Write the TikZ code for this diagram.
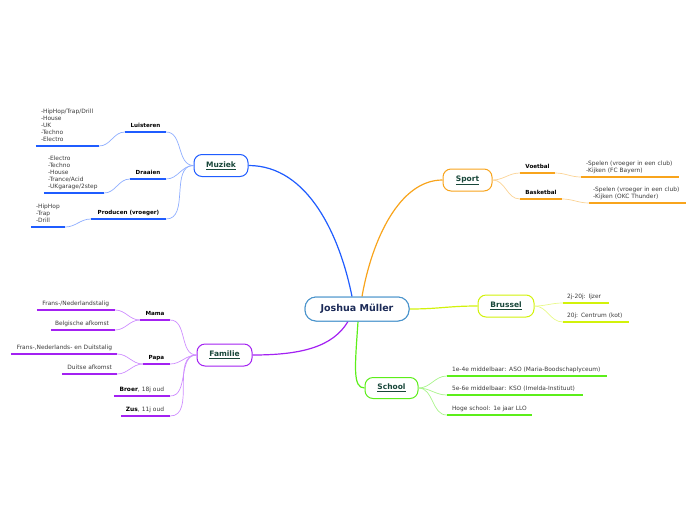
\documentclass[tikz,border=0pt]{standalone}
\usepackage{fontspec}
\setmainfont{DejaVu Sans}
\definecolor{mblue}{HTML}{1F5CFF}
\definecolor{mbluel}{HTML}{8FAEFF}
\definecolor{sor}{HTML}{F8A41C}
\definecolor{sorl}{HTML}{FBD394}
\definecolor{byel}{HTML}{D2F20A}
\definecolor{byell}{HTML}{E8F98A}
\definecolor{sgr}{HTML}{5CEE1A}
\definecolor{sgrl}{HTML}{A8F48A}
\definecolor{fpu}{HTML}{A321F2}
\definecolor{fpul}{HTML}{CE8EFF}
\definecolor{rootb}{HTML}{4A94CC}
\definecolor{roott}{HTML}{1B2A57}
\definecolor{maint}{HTML}{19473A}
\definecolor{leaft}{HTML}{3A3A3A}
\newcommand\ind{\hspace*{5pt}}
\newcommand\indd{\hspace*{4pt}}
\begin{document}
\begin{tikzpicture}[x=1pt,y=-1pt,
  rootbox/.style={draw=rootb, rounded corners=11pt, line width=1pt, fill=white, inner sep=0pt,
    minimum width=104pt, minimum height=24pt, font=\fontsize{9.5}{11}\selectfont\bfseries, text=roott},
  mainbox/.style={draw=#1, rounded corners=8pt, line width=1pt, fill=white, inner sep=0pt,
    minimum height=22pt, font=\fontsize{7.5}{9}\selectfont\bfseries, text=maint},
  lbl/.style={inner xsep=0pt, inner ysep=2.2pt, anchor=south, font=\fontsize{5.6}{7}\selectfont\bfseries,
    text=black, execute at end node=\strut},
  leafl/.style={inner xsep=0pt, inner ysep=1.8pt, anchor=south, align=left, text width=#1,
    font=\fontsize{5.9}{7}\selectfont, text=leaft, execute at end node=\strut},
  leafr/.style={inner xsep=0pt, inner ysep=1.8pt, anchor=south, align=right, text width=#1,
    font=\fontsize{5.9}{7}\selectfont, text=leaft, execute at end node=\strut},
  mainc/.style={draw=#1, line width=1.2pt},
  subc/.style={draw=#1, line width=0.7pt},
  uline/.style={draw=#1, line width=1.8pt}
]
\useasboundingbox (0,0) rectangle (696,520);

% main nodes
\node[rootbox] (root) at (357,309) {Joshua Müller};
\node[mainbox=mblue, minimum width=54pt] (muziek) at (221,165.5) {\underline{Muziek}};
\node[mainbox=sor, minimum width=49pt] (sport) at (467.5,180) {\underline{Sport}};
\node[mainbox=byel, minimum width=56pt] (brussel) at (506,306) {\underline{Brussel}};
\node[mainbox=sgr, minimum width=53pt, minimum height=21pt] (school) at (391.5,388) {\underline{School}};
\node[mainbox=fpu, minimum width=55pt] (familie) at (224.5,355) {\underline{Familie}};

% main connectors
\draw[mainc=mblue] ([xshift=-5pt]root.north) .. controls +(-12,-60) and +(60,0) .. (muziek.east);
\draw[mainc=sor] ([xshift=5pt]root.north) .. controls +(10,-57) and +(-43,0) .. (sport.west);
\draw[mainc=byel] (root.east) .. controls +(30,0) and +(-30,0) .. (brussel.west);
\draw[mainc=sgr] ([xshift=1pt]root.south) .. controls +(-3,45) and +(-12,0) .. (school.west);
\draw[mainc=fpu] ([xshift=-9pt]root.south) .. controls +(-15,25) and +(50,0) .. (familie.east);
\node[rootbox] at (root) {Joshua Müller};

% Muziek
\node[lbl, minimum width=41pt] (luis) at (145.5,132) {Luisteren};
\node[leafl=63pt] (luisl) at (67.5,146) {\ind-HipHop/Trap/Drill\\\ind-House\\\ind-UK\\\ind-Techno\\\ind-Electro};
\node[lbl, minimum width=36pt] (draa) at (148,179) {Draaien};
\node[leafl=60pt] (draal) at (74,193) {\indd-Electro\\\indd-Techno\\\indd-House\\\indd-Trance/Acid\\\indd-UKgarage/2step};
\node[lbl, minimum width=75pt] (prod) at (128.5,219) {Producen (vroeger)};
\node[leafl=34pt] (prodl) at (48,227) {\ind-HipHop\\\ind-Trap\\\ind-Drill};
\foreach \n in {luis,luisl,draa,draal,prod,prodl} \draw[uline=mblue] (\n.south west) -- (\n.south east);
\foreach \n in {luis,draa,prod} \draw[subc=mbluel] (muziek.west) to[out=180,in=0] (\n.south east);
\draw[subc=mbluel] (luis.south west) to[out=180,in=0] (luisl.south east);
\draw[subc=mbluel] (draa.south west) to[out=180,in=0] (draal.south east);
\draw[subc=mbluel] (prod.south west) to[out=180,in=0] (prodl.south east);

% Sport
\node[lbl, minimum width=35pt] (voet) at (537.5,173) {Voetbal};
\node[leafl=98pt] (voetl) at (630,177) {\ind-Spelen (vroeger in een club)\\\ind-Kijken (FC Bayern)};
\node[lbl, minimum width=42pt] (bask) at (541,199) {Basketbal};
\node[leafl=97pt] (baskl) at (637.5,203) {\indd-Spelen (vroeger in een club)\\\indd-Kijken (OKC Thunder)};
\foreach \n in {voet,voetl,bask,baskl} \draw[uline=sor] (\n.south west) -- (\n.south east);
\foreach \n in {voet,bask} \draw[subc=sorl] (sport.east) to[out=0,in=180] (\n.south west);
\draw[subc=sorl] (voet.south east) to[out=0,in=180] (voetl.south west);
\draw[subc=sorl] (bask.south east) to[out=0,in=180] (baskl.south west);

% Brussel
\node[leafl=46pt] (br1) at (586,303) {\indd 2j-20j: Ijzer};
\node[leafl=66pt] (br2) at (596,322) {\indd 20j: Centrum (kot)};
\foreach \n in {br1,br2} {\draw[uline=byel] (\n.south west) -- (\n.south east);
  \draw[subc=byell] (brussel.east) to[out=0,in=180] (\n.south west);}

% School
\node[leafl=160pt] (sc1) at (527,376) {\ind 1e-4e middelbaar: ASO (Maria-Boodschaplyceum)};
\node[leafl=136pt] (sc2) at (515,395) {\ind 5e-6e middelbaar: KSO (Imelda-Instituut)};
\node[leafl=85pt] (sc3) at (489.5,415) {\ind Hoge school: 1e jaar LLO};
\foreach \n in {sc1,sc2,sc3} {\draw[uline=sgr] (\n.south west) -- (\n.south east);
  \draw[subc=sgrl] (school.east) to[out=0,in=180] (\n.south west);}

% Familie
\node[lbl, minimum width=30pt] (mama) at (155,320) {Mama};
\node[leafr=78pt] (mama1) at (76,310) {Frans-/Nederlandstalig\kern6pt};
\node[leafr=64pt] (mama2) at (83,330) {Belgische afkomst\kern6pt};
\node[lbl, minimum width=27pt] (papa) at (156.5,364) {Papa};
\node[leafr=106pt] (papa1) at (64,354) {Frans-,Nederlands- en Duitstalig\kern5pt};
\node[leafr=55pt] (papa2) at (89.5,374) {Duitse afkomst\kern5pt};
\node[leafr=56pt] (broer) at (142,396) {\textbf{\color{black}Broer}, 18j oud\kern6pt};
\node[leafr=49pt] (zus) at (145.5,416) {\textbf{\color{black}Zus}, 11j oud\kern6pt};
\foreach \n in {mama,mama1,mama2,papa,papa1,papa2,broer,zus} \draw[uline=fpu] (\n.south west) -- (\n.south east);
\foreach \n in {mama,papa,broer,zus} \draw[subc=fpul] (familie.west) to[out=180,in=0] (\n.south east);
\foreach \n in {mama1,mama2} \draw[subc=fpul] (mama.south west) to[out=180,in=0] (\n.south east);
\foreach \n in {papa1,papa2} \draw[subc=fpul] (papa.south west) to[out=180,in=0] (\n.south east);
\end{tikzpicture}
\end{document}
